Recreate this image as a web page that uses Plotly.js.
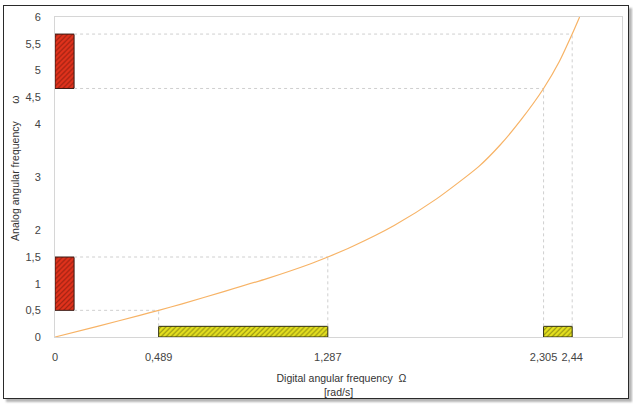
<!DOCTYPE html>
<html>
<head>
<meta charset="utf-8">
<script src="https://cdn.plot.ly/plotly-3.0.1.min.js"></script>
<style>
  html, body { margin: 0; padding: 0; background: #ffffff; }
  #frame { position: absolute; left: 3px; top: 5px; width: 624px; height: 392px;
           border: 1px solid #2a2a2a; background: #ffffff;
           box-shadow: 3px 3px 2px #b4b4b4; }
  #chart { position: absolute; left: 0; top: 0; width: 633px; height: 404px; }
</style>
</head>
<body>
<div id="frame"></div>
<div id="chart"></div>
<script>
// Frequency warping curve: digital angular frequency (rad/s) -> analog angular frequency
const digitalOmega = [0, 0.2, 0.4, 0.489, 0.6, 0.8, 1.0, 1.2, 1.287, 1.4, 1.6, 1.8, 2.0, 2.1, 2.2, 2.305, 2.38, 2.44, 2.475];
const analogOmega  = [0, 0.2, 0.405, 0.5, 0.622, 0.855, 1.095, 1.365, 1.5, 1.692, 2.09, 2.59, 3.2, 3.6, 4.08, 4.66, 5.17, 5.68, 6.0];

// Band edges on the digital axis and the matching analog values
const digitalEdges = [0.489, 1.287, 2.305, 2.44];
const analogEdges  = [0.5, 1.5, 4.66, 5.68];

// Band markers: digital bands along the x axis, analog bands along the y axis
const digitalBandStart = [0.489, 2.305];
const digitalBandEnd   = [1.287, 2.44];
const analogBandStart  = [0.5, 4.66];
const analogBandEnd    = [1.5, 5.68];
const bandThickX = 0.09;   // width of the analog band markers (in Ω units)
const bandThickY = 0.2;    // height of the digital band markers (in ω units)

// Tick labels
const xTickVals = [0, 0.489, 1.287, 2.305, 2.44];
const xTickText = ["0", "0,489", "1,287", "2,305", "2,44"];
const yTickVals = [0, 0.5, 1, 1.5, 2, 3, 4, 4.5, 5, 5.5, 6];
const yTickText = ["0", "0,5", "1", "1,5", "2", "3", "4", "4,5", "5", "5,5", "6"];

const guideColor = "#cfcfcf";
const traces = [];

// Dashed guides from the band edges to the curve
digitalEdges.forEach((d, i) => {
  traces.push({
    type: "scatter", mode: "lines", hoverinfo: "skip", showlegend: false,
    x: [d, d], y: [bandThickY, analogEdges[i]],
    line: { color: guideColor, width: 1, dash: "3px,3px" }
  });
  traces.push({
    type: "scatter", mode: "lines", hoverinfo: "skip", showlegend: false,
    x: [bandThickX, d], y: [analogEdges[i], analogEdges[i]],
    line: { color: guideColor, width: 1, dash: "3px,3px" }
  });
});

// Analog bands (vertical, red hatched)
traces.push({
  type: "bar", orientation: "v", showlegend: false,
  x: analogBandStart.map(() => bandThickX / 2),
  y: analogBandStart.map((s, i) => analogBandEnd[i] - s),
  base: analogBandStart,
  width: bandThickX,
  marker: {
    color: "#e2321c",
    line: { color: "#3a1a14", width: 1 },
    pattern: { shape: "/", fillmode: "overlay", fgcolor: "#5a1208", size: 3.5, solidity: 0.35 }
  }
});

// Digital bands (horizontal, yellow hatched)
traces.push({
  type: "bar", orientation: "h", showlegend: false,
  y: digitalBandStart.map(() => bandThickY / 2),
  x: digitalBandStart.map((s, i) => digitalBandEnd[i] - s),
  base: digitalBandStart,
  width: bandThickY,
  marker: {
    color: "#e6e21e",
    line: { color: "#2f2f10", width: 1 },
    pattern: { shape: "/", fillmode: "overlay", fgcolor: "#4a4a0c", size: 3.5, solidity: 0.35 }
  }
});

// Warping curve
traces.push({
  type: "scatter", mode: "lines", showlegend: false,
  x: digitalOmega, y: analogOmega,
  line: { color: "#f7b366", width: 1.2, shape: "spline", smoothing: 0.6 }
});

const font = { family: "Liberation Sans, Arial, sans-serif", size: 11, color: "#444444" };

const layout = {
  width: 633, height: 404,
  margin: { l: 55, r: 11, t: 17, b: 67 },
  paper_bgcolor: "rgba(0,0,0,0)",
  plot_bgcolor: "#ffffff",
  barmode: "overlay",
  font: font,
  showlegend: false,
  xaxis: {
    range: [0, 2.675],
    tickvals: xTickVals, ticktext: xTickText,
    showgrid: false, zeroline: false,
    showline: true, mirror: true, linecolor: "#d6d6d6", linewidth: 1,
    ticks: "", ticklabelstandoff: 10,
    tickfont: { family: font.family, size: 11, color: "#444444" },
    title: {
      text: "&nbsp;&nbsp;Digital angular frequency  Ω<br>[rad/s]",
      font: { family: font.family, size: 10.5, color: "#333333" },
      standoff: 12
    }
  },
  yaxis: {
    range: [0, 6],
    tickvals: yTickVals, ticktext: yTickText,
    showgrid: false, zeroline: false,
    showline: true, mirror: true, linecolor: "#d6d6d6", linewidth: 1,
    ticks: "", ticklabelstandoff: 11,
    tickfont: { family: font.family, size: 11, color: "#444444" },
    title: {
      text: "&nbsp;&nbsp;&nbsp;&nbsp;&nbsp;&nbsp;Analog angular frequency&nbsp;&nbsp;&nbsp;&nbsp;&nbsp;&nbsp;ω",
      font: { family: font.family, size: 10.5, color: "#333333" },
      standoff: 3
    }
  }
};

Plotly.newPlot("chart", traces, layout, { displayModeBar: false, staticPlot: true });
</script>
</body>
</html>
